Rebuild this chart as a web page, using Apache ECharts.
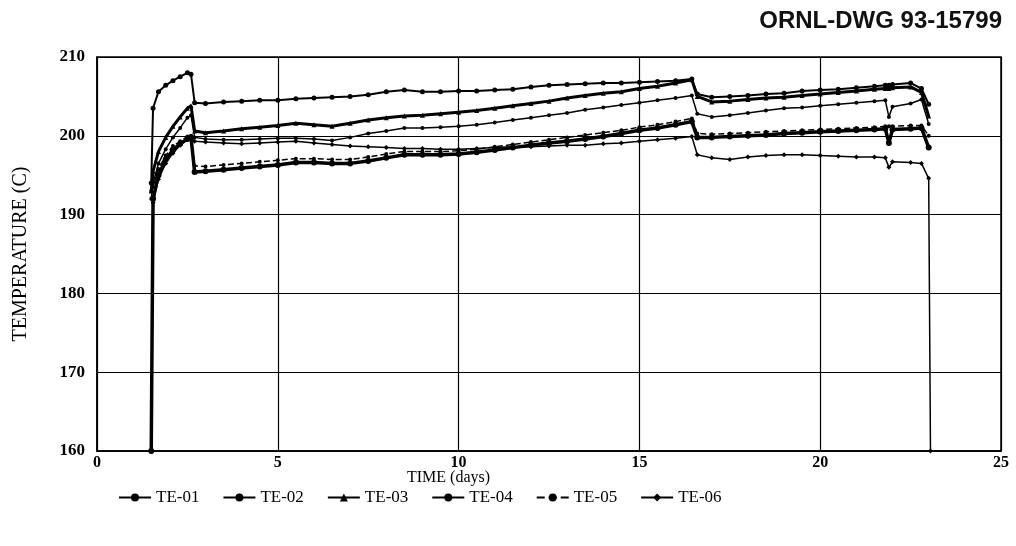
<!DOCTYPE html>
<html>
<head>
<meta charset="utf-8">
<title>ORNL-DWG 93-15799</title>
<script src="https://cdn.jsdelivr.net/npm/echarts@6/dist/echarts.min.js"></script>
<style>
  html, body { margin: 0; padding: 0; background: #fff; }
  #chart { width: 1016px; height: 546px; }
</style>
</head>
<body>
<div id="chart"></div>
<script>
// Elapsed time of each reading (days)
const times = [1.5, 1.55, 1.7, 1.9, 2.1, 2.3, 2.5, 2.6, 2.7, 3, 3.5, 4, 4.5, 5, 5.5, 6, 6.5, 7, 7.5, 8,
  8.5, 9, 9.5, 10, 10.5, 11, 11.5, 12, 12.5, 13, 13.5, 14, 14.5, 15, 15.5, 16, 16.45, 16.6, 17, 17.5,
  18, 18.5, 19, 19.5, 20, 20.5, 21, 21.5, 21.8, 21.9, 22, 22.5, 22.8, 23, 23.05];

// Thermocouple temperatures (C)
const te01 = [194, 203.5, 205.6, 206.4, 207.0, 207.5, 208.0, 207.8, 204.2, 204.1, 204.3, 204.4, 204.5, 204.5, 204.7, 204.8, 204.9, 205.0, 205.2, 205.6,
  205.8, 205.6, 205.6, 205.7, 205.7, 205.8, 205.9, 206.2, 206.4, 206.5, 206.6, 206.7, 206.7, 206.8, 206.9, 207.0, 207.2, 205.3, 204.9, 205.0,
  205.1, 205.3, 205.4, 205.7, 205.8, 205.9, 206.1, 206.3, 206.4, 206.4, 206.5, 206.7, 206.0, 204.0, null];
const te02 = [192, 194.0, 196.5, 198.3, 199.8, 201.0, 202.3, 202.6, 199.8, 199.6, 199.5, 199.5, 199.6, 199.7, 199.7, 199.6, 199.4, 199.8, 200.3, 200.6,
  201.0, 201.0, 201.1, 201.2, 201.4, 201.7, 202.0, 202.3, 202.6, 202.9, 203.3, 203.6, 203.9, 204.2, 204.5, 204.8, 205.1, 202.8, 202.4, 202.6,
  202.9, 203.2, 203.5, 203.6, 203.8, 204.0, 204.2, 204.4, 204.5, 202.4, 203.7, 204.1, 204.6, 201.5, null];
const te03 = [193, 195.5, 198.0, 199.8, 201.2, 202.4, 203.5, 203.8, 200.6, 200.4, 200.6, 200.9, 201.1, 201.3, 201.6, 201.4, 201.2, 201.6, 202.0, 202.3,
  202.5, 202.6, 202.8, 203.0, 203.2, 203.5, 203.8, 204.1, 204.4, 204.8, 205.1, 205.4, 205.6, 206.0, 206.3, 206.7, 207.1, 205.0, 204.3, 204.4,
  204.6, 204.8, 204.9, 205.1, 205.3, 205.5, 205.7, 205.9, 206.0, 206.0, 206.1, 206.2, 205.5, 202.5, null];
const te04 = [160, 192.0, 195.0, 197.0, 198.2, 199.0, 199.6, 199.8, 195.4, 195.5, 195.7, 195.9, 196.1, 196.3, 196.6, 196.6, 196.5, 196.5, 196.8, 197.2,
  197.6, 197.6, 197.6, 197.7, 197.9, 198.2, 198.5, 198.8, 199.1, 199.3, 199.6, 199.9, 200.3, 200.7, 201.0, 201.4, 201.8, 199.8, 199.8, 199.9,
  200.0, 200.1, 200.3, 200.4, 200.5, 200.6, 200.7, 200.8, 200.9, 199.1, 200.8, 200.9, 201.0, 198.5, null];
const te05 = [193, 193.5, 195.8, 197.5, 198.7, 199.3, 199.9, 200.0, 196.2, 196.1, 196.3, 196.5, 196.7, 196.9, 197.1, 197.1, 197.0, 197.0, 197.3, 197.7,
  198.0, 198.0, 198.0, 198.1, 198.3, 198.6, 198.9, 199.2, 199.5, 199.8, 200.1, 200.4, 200.7, 201.1, 201.4, 201.8, 202.2, 200.3, 200.2, 200.3,
  200.4, 200.5, 200.6, 200.7, 200.8, 200.9, 201.0, 201.1, 201.2, 201.2, 201.2, 201.3, 201.3, 200.0, null];
const te06 = [160, 191.5, 194.5, 196.5, 197.8, 198.8, 199.6, 199.7, 199.3, 199.2, 199.1, 199.0, 199.1, 199.2, 199.3, 199.1, 198.9, 198.7, 198.6, 198.5,
  198.4, 198.4, 198.3, 198.3, 198.4, 198.5, 198.6, 198.6, 198.7, 198.8, 198.8, 199.0, 199.1, 199.3, 199.5, 199.7, 199.9, 197.6, 197.2, 197.0,
  197.3, 197.5, 197.6, 197.6, 197.5, 197.4, 197.3, 197.3, 197.2, 196.0, 196.7, 196.6, 196.5, 194.6, 160];

const seriesNames = ['TE-01', 'TE-02', 'TE-03', 'TE-04', 'TE-05', 'TE-06'];
const seriesValues = [te01, te02, te03, te04, te05, te06];

// Line and marker look for each thermocouple
const looks = [
  { width: 2, type: 'solid', symbol: 'circle', size: 5 },
  { width: 1.5, type: 'solid', symbol: 'circle', size: 4 },
  { width: 3, type: 'solid', symbol: 'triangle', size: 5 },
  { width: 3.5, type: 'solid', symbol: 'circle', size: 6 },
  { width: 1.5, type: 'dashed', symbol: 'circle', size: 4 },
  { width: 1.5, type: 'solid', symbol: 'diamond', size: 5 }
];

const serif = 'Liberation Serif, Times New Roman, serif';

const series = seriesNames.map((name, k) => ({
  name: name,
  type: 'line',
  data: times.map((t, i) => [t, seriesValues[k][i]]),
  connectNulls: false,
  showSymbol: true,
  showAllSymbol: true,
  symbol: looks[k].symbol,
  symbolSize: looks[k].size,
  itemStyle: { color: '#000' },
  lineStyle: { color: '#000', width: looks[k].width, type: looks[k].type },
  emphasis: { disabled: true }
}));

const chart = echarts.init(document.getElementById('chart'), null, { renderer: 'canvas' });
chart.setOption({
  animation: false,
  backgroundColor: '#fff',
  title: {
    text: 'ORNL-DWG 93-15799',
    right: 9,
    top: 4,
    textStyle: { fontFamily: 'Liberation Sans, Arial, sans-serif', fontWeight: 'bold', fontSize: 24, color: '#111' }
  },
  grid: {
    left: 97, right: 15, top: 57, bottom: 95,
    show: true, borderColor: '#000', borderWidth: 1.5, backgroundColor: 'transparent'
  },
  legend: {
    left: 113,
    top: 484,
    itemWidth: 32,
    itemHeight: 10,
    itemGap: 23,
    data: seriesNames,
    textStyle: { fontFamily: serif, fontSize: 17, color: '#000' }
  },
  xAxis: {
    type: 'value',
    min: 0, max: 25, interval: 5,
    axisLine: { lineStyle: { color: '#000', width: 1.5 } },
    axisTick: { show: false },
    axisLabel: { fontFamily: serif, fontWeight: 'bold', fontSize: 16, color: '#000', margin: 4 },
    splitLine: { show: true, lineStyle: { color: '#000', width: 1.2 } }
  },
  yAxis: {
    type: 'value',
    min: 160, max: 210, interval: 10,
    name: 'TEMPERATURE (C)',
    nameLocation: 'middle',
    nameGap: 66,
    nameTextStyle: { fontFamily: serif, fontSize: 20, color: '#000' },
    axisLine: { show: true, lineStyle: { color: '#000', width: 1.5 } },
    axisTick: { show: false },
    axisLabel: { fontFamily: serif, fontWeight: 'bold', fontSize: 17, color: '#000', margin: 12 },
    splitLine: { show: true, lineStyle: { color: '#000', width: 1.2 } }
  },
  graphic: [{
    type: 'text',
    left: 407,
    top: 470,
    style: { text: 'TIME (days)', font: '16px ' + serif, fill: '#000' }
  }],
  series: series
});
</script>
</body>
</html>
